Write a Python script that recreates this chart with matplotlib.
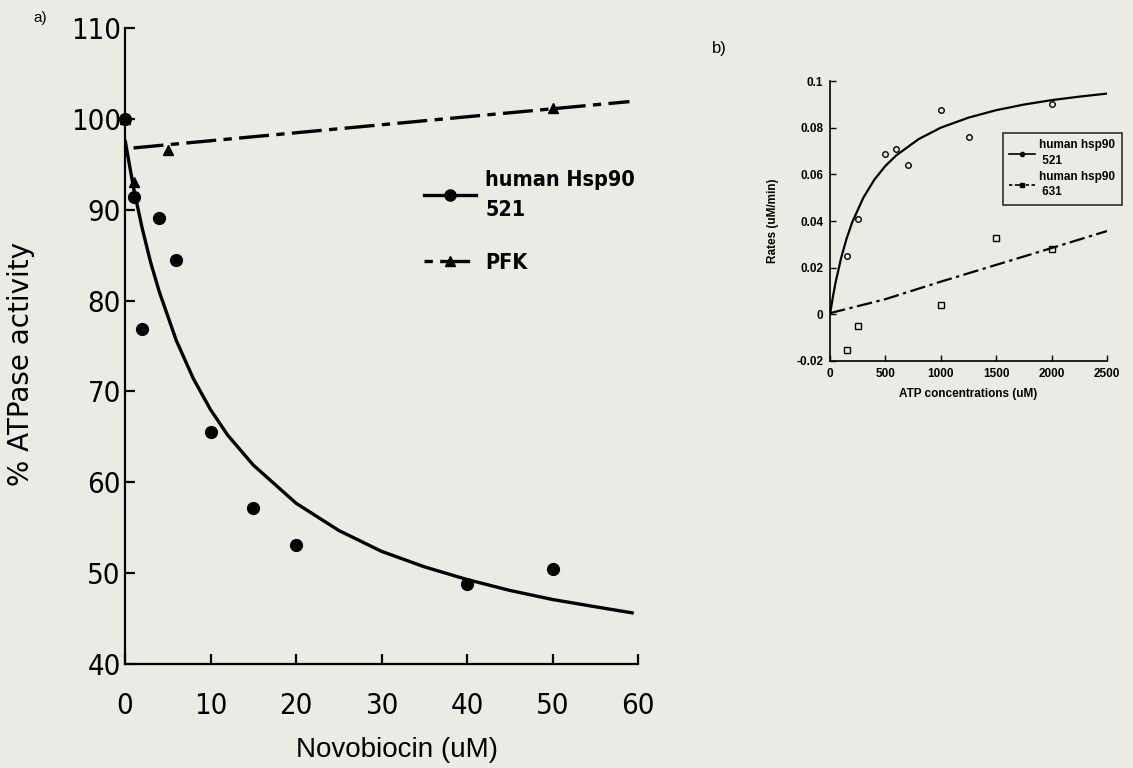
import matplotlib
matplotlib.use("Agg")
import matplotlib.pyplot as plt
from matplotlib.lines import Line2D
from matplotlib import font_manager as fm

# ---- Panel a: Novobiocin inhibition of ATPase activity ----
novo_conc = [0, 1, 2, 4, 6, 10, 15, 20, 40, 50]
hsp90_activity = [100, 91.4, 76.9, 89.1, 84.5, 65.5, 57.2, 53.1, 48.8, 50.5]

pfk_conc = [0, 1, 5, 50]
pfk_activity = [100, 93.0, 96.6, 101.2]

# fitted inhibition curve for Hsp90 521
hsp90_fit_x = [0, 1, 2, 3, 4, 6, 8, 10, 12, 15, 20, 25, 30, 35, 40, 45, 50, 55, 59.5]
hsp90_fit_y = [97.7, 92.4, 88.0, 84.2, 81.0, 75.6, 71.4, 68.0, 65.2, 61.9, 57.7,
               54.7, 52.4, 50.7, 49.3, 48.1, 47.1, 46.3, 45.6]

# linear trend for PFK
pfk_fit_x = [1, 59]
pfk_fit_y = [96.8, 101.9]

a_xticks = [0, 10, 20, 30, 40, 50, 60]
a_yticks = [40, 50, 60, 70, 80, 90, 100, 110]

# ---- Panel b: rates vs ATP concentration ----
atp_521 = [150, 250, 500, 600, 700, 1000, 1250, 2000]
rate_521 = [0.025, 0.041, 0.0685, 0.071, 0.064, 0.0875, 0.076, 0.090]

atp_631 = [150, 250, 1000, 1500, 2000]
rate_631 = [-0.0155, -0.005, 0.004, 0.0325, 0.028]

fit521_x = [0, 25, 50, 100, 150, 200, 300, 400, 500, 600, 800, 1000, 1250,
            1500, 1750, 2000, 2250, 2500]
fit521_y = [0.0, 0.0072, 0.0136, 0.0241, 0.0325, 0.0394, 0.0499, 0.0577, 0.0636,
            0.0682, 0.0751, 0.0800, 0.0843, 0.0875, 0.0899, 0.0918, 0.0933, 0.0946]

fit631_x = [0, 500, 1000, 1500, 2000, 2500]
fit631_y = [0.0005, 0.0065, 0.0140, 0.0212, 0.0284, 0.0357]

b_xticks = [0, 500, 1000, 1500, 2000, 2500]
b_yticks = [-0.02, 0, 0.02, 0.04, 0.06, 0.08, 0.1]
b_yticklabels = ["-0.02", "0", "0.02", "0.04", "0.06", "0.08", "0.1"]

BG = "#e9ebe4"
SANS = ["Liberation Sans", "DejaVu Sans"]


def find_condensed(bold=False):
    """Return FontProperties for an installed condensed sans face, if any."""
    for f in fm.fontManager.ttflist:
        narrow = ("Narrow" in f.name or "Condensed" in f.name
                  or f.stretch in ("condensed", "semi-condensed"))
        if not narrow or f.style != "normal":
            continue
        w = f.weight if isinstance(f.weight, int) else fm.weight_dict.get(f.weight, 400)
        if (w >= 600) == bold and "Mono" not in f.name and "Serif" not in f.name:
            return fm.FontProperties(fname=f.fname)
    return None


cond_reg = find_condensed(False)
cond_bold = find_condensed(True)

fig = plt.figure(figsize=(11.33, 7.68), dpi=100, facecolor=BG)

# ================= panel a =================
axa = fig.add_axes([125 / 1133, 1 - 664 / 768, 513 / 1133, 636 / 768])
axa.set_facecolor("none")
axa.plot(hsp90_fit_x, hsp90_fit_y, color="black", lw=2.4, solid_capstyle="butt")
axa.plot(pfk_fit_x, pfk_fit_y, color="black", lw=2.4,
         dashes=(9, 2.2, 2.5, 2.2))
axa.plot(novo_conc, hsp90_activity, "o", color="black", ms=8.5, clip_on=False)
axa.plot(pfk_conc, pfk_activity, "^", color="black", ms=7.5, clip_on=False)

axa.set_xlim(0, 60)
axa.set_ylim(40, 110)
axa.set_xticks(a_xticks)
axa.set_yticks(a_yticks)
for s in ("top", "right"):
    axa.spines[s].set_visible(False)
for s in ("left", "bottom"):
    axa.spines[s].set_linewidth(1.6)
axa.tick_params(direction="in", length=7, width=1.6, pad=3)
axa.tick_params(axis="x", pad=20)
for lab in axa.get_xticklabels() + axa.get_yticklabels():
    if cond_reg is not None:
        lab.set_fontproperties(cond_reg)
        lab.set_fontsize(21)
    else:
        lab.set_family(SANS)
        lab.set_fontsize(18)
axa.set_xlabel("Novobiocin (uM)", family=SANS, fontsize=20, labelpad=16)
axa.xaxis.set_label_coords(0.53, -0.115)
axa.set_ylabel("% ATPase activity", family="DejaVu Sans", fontsize=20)
axa.yaxis.set_label_coords(-0.175, 0.472)

leg_a_handles = [
    Line2D([], [], color="black", lw=2.4, marker="o", ms=8),
    Line2D([], [], color="black", lw=2.4, marker="^", ms=7.5,
           dashes=(2.5, 2.2, 9, 2.2)),
]
if cond_bold is not None:
    leg_a_prop = cond_bold.copy()
    leg_a_prop.set_size(15.5)
else:
    leg_a_prop = fm.FontProperties(family=SANS, weight="bold", size=14.5)
leg_a = fig.legend(leg_a_handles, ["human Hsp90\n521", "PFK"],
                   loc="upper left", bbox_to_anchor=(424 / 1133, 1 - 170 / 768),
                   frameon=False, borderpad=0, borderaxespad=0,
                   handlelength=2.4, handletextpad=0.45, labelspacing=1.55,
                   prop=leg_a_prop)
for t in leg_a.get_texts():
    t.set_linespacing(1.6)

fig.text(33 / 1133, 1 - 18 / 768, "a)", family=SANS, fontsize=11,
         ha="left", va="center")

# ================= panel b =================
axb = fig.add_axes([830 / 1133, 1 - 361 / 768, 277 / 1133, 280 / 768])
axb.set_facecolor("none")
axb.plot(fit521_x, fit521_y, color="black", lw=1.6)
axb.plot(fit631_x, fit631_y, color="black", lw=1.6, dashes=(7, 2, 1.5, 2))
axb.plot(atp_521, rate_521, "o", mfc="none", mec="black", ms=4, mew=1)
axb.plot(atp_631, rate_631, "s", mfc="none", mec="black", ms=4, mew=1)

axb.set_xlim(0, 2500)
axb.set_ylim(-0.02, 0.1)
axb.set_xticks(b_xticks)
axb.set_yticks(b_yticks)
axb.set_yticklabels(b_yticklabels)
for s in ("top", "right"):
    axb.spines[s].set_visible(False)
for s in ("left", "bottom"):
    axb.spines[s].set_linewidth(1.2)
axb.tick_params(direction="in", length=4, width=1.0, pad=5)
for lab in axb.get_xticklabels() + axb.get_yticklabels():
    lab.set_family(SANS)
    lab.set_fontsize(8.5)
    lab.set_weight("bold")
axb.set_xlabel("ATP concentrations (uM)", family=SANS, fontsize=8.5,
               weight="bold", labelpad=6)
axb.set_ylabel("Rates (uM/min)", family=SANS, fontsize=8.5, weight="bold",
               labelpad=12)

leg_b_handles = [
    Line2D([], [], color="black", lw=1.2, marker="o", ms=3),
    Line2D([], [], color="black", lw=1.2, marker="s", ms=3, dashes=(2, 1.5, 5, 1.5)),
]
leg_b = fig.legend(leg_b_handles, ["human hsp90\n 521", "human hsp90\n 631"],
                   loc="upper left", bbox_to_anchor=(1003 / 1133, 1 - 133 / 768),
                   frameon=True, fancybox=False, shadow=False,
                   borderpad=0.55, borderaxespad=0, handlelength=2.2,
                   handletextpad=0.3, labelspacing=0.3,
                   prop={"family": SANS, "weight": "bold", "size": 8.5})
for t in leg_b.get_texts():
    t.set_linespacing(1.4)
frame = leg_b.get_frame()
frame.set_edgecolor("black")
frame.set_linewidth(1.2)
frame.set_facecolor("none")

fig.text(712 / 1133, 1 - 48 / 768, "b)", family=SANS, fontsize=12,
         ha="left", va="center")

fig.savefig("out.png", dpi=100, facecolor=BG)
